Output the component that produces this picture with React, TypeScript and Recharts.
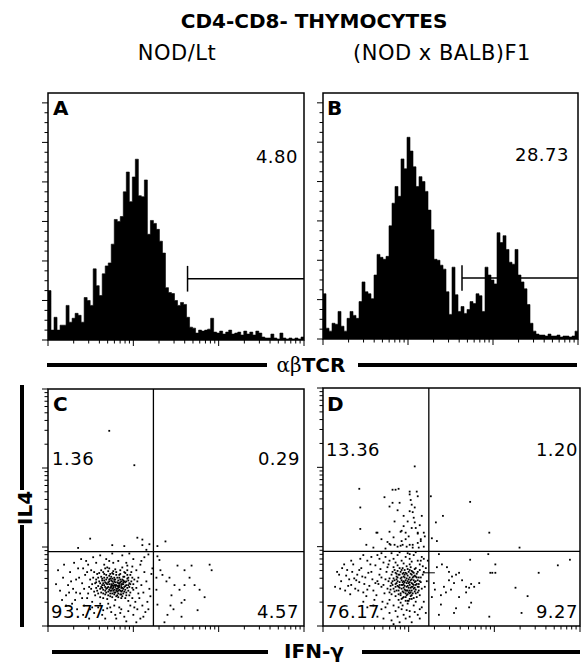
import React from "react";
import { AreaChart, Area, ScatterChart, Scatter, XAxis, YAxis, ReferenceLine, ReferenceArea } from "recharts";

// 3-decade log scale, 85 channels per decade
const CH_MAX = 255;
const DECADE = 85;
const DECADES = [0, 1, 2, 3];
const MINORS = [2, 3, 4, 5, 6, 7, 8, 9];
const COUNT_MAX = 250;
const COUNT_TICKS = [0, 10, 20, 30, 40, 50, 60, 70, 80, 90, 100, 110, 120, 130, 140, 150, 160, 170, 180, 190, 200, 210, 220, 230, 240];
const BIN = 3;

// aBTCR histograms, counts per 3-channel bin
const histNOD = [
  50, 10, 23, 10, 15, 15, 35, 18, 22, 27, 25, 18, 43, 40, 35, 72, 55, 45, 67, 75,
  78, 97, 122, 120, 125, 150, 170, 140, 165, 183, 146, 145, 162, 107, 121, 118, 112, 100, 88, 53,
  48, 47, 40, 35, 38, 36, 23, 13, 12, 7, 10, 9, 10, 11, 22, 8, 7, 9, 6, 8,
  10, 6, 7, 8, 5, 9, 6, 8, 5, 9, 7, 3, 2, 2, 6, 2, 1, 7, 2, 1,
  2, 1, 2, 1, 3,
];
const histF1 = [
  46, 11, 8, 16, 15, 28, 13, 8, 21, 28, 24, 21, 38, 58, 48, 46, 41, 65, 86, 83,
  81, 84, 115, 138, 155, 145, 183, 173, 205, 191, 175, 155, 165, 160, 150, 131, 111, 81, 80, 75,
  71, 48, 25, 73, 45, 28, 33, 26, 30, 38, 36, 46, 44, 28, 73, 65, 60, 56, 108, 98,
  105, 91, 78, 76, 91, 65, 58, 51, 35, 16, 8, 5, 4, 4, 3, 5, 3, 3, 4, 2,
  3, 3, 2, 3, 8,
];
const TCR_GATE = { x: 139, y: 62, lo: 49, hi: 75 };

// IL4 vs IFN-g dot plots, [IFN-g channel, IL4 channel]
const QUAD = { x: 105, y: 80 };
const nodLL = [
  [62,41],[57,47],[70,38],[66,52],[53,36],[75,45],[48,50],[81,33],[59,29],[68,44],
  [72,56],[55,58],[64,35],[77,39],[50,43],[83,48],[61,54],[46,37],[73,30],[58,40],
  [67,61],[79,51],[52,31],[65,46],[56,52],[71,42],[44,45],[85,39],[60,37],[76,58],
  [63,49],[54,44],[69,33],[80,44],[49,56],[74,50],[57,34],[66,39],[82,55],[51,48],
  [61,62],[78,36],[47,33],[70,49],[59,45],[84,30],[64,57],[53,53],[73,41],[67,28],
  [45,52],[79,60],[58,50],[62,32],[75,35],[52,40],[68,55],[81,42],[55,30],[71,46],
  [48,41],[65,43],[77,47],[60,59],[86,50],[54,49],[69,37],[57,42],[74,63],[63,38],
  [50,35],[80,38],[66,48],[56,56],[72,34],[83,58],[59,52],[47,46],[67,42],[76,53],
  [61,45],[53,60],[70,31],[64,51],[58,36],[78,44],[49,38],[73,48],[62,56],[85,45],
  [55,39],[68,40],[80,27],[57,62],[66,34],[52,46],[75,40],[63,43],[71,52],[46,58],
  [60,33],[79,55],[54,41],[69,47],[65,59],[82,36],[50,52],[73,37],[58,55],[67,50],
  [88,41],[43,40],[77,30],[61,48],[56,44],[72,60],[64,40],[84,52],[51,57],[70,43],
  [59,63],[76,48],[48,47],[66,36],[62,51],[80,49],[55,35],[74,45],[68,58],[53,42],
  [63,45],[65,41],[67,47],[69,43],[71,39],[73,45],[75,49],[77,43],[60,42],[58,46],
  [64,48],[66,44],[68,38],[70,46],[72,50],[74,38],[76,42],[78,48],[62,38],[61,50],
  [63,53],[65,56],[67,36],[69,52],[71,55],[73,34],[75,53],[77,57],[79,41],[81,46],
  [57,38],[59,41],[55,46],[54,51],[56,49],[60,47],[64,44],[66,50],[70,41],[72,47],
  [74,41],[76,37],[78,33],[80,52],[82,45],[84,41],[62,35],[64,31],[68,32],[70,35],
  [72,38],[74,32],[61,39],[63,42],[65,38],[67,44],[69,40],[71,44],[73,43],[75,47],
  [8,45],[12,38],[15,52],[18,33],[20,44],[22,58],[25,40],[27,28],[28,50],[30,62],
  [32,35],[34,46],[36,22],[37,55],[39,30],[40,66],[41,42],[42,18],[43,60],[44,26],
  [38,70],[33,72],[45,74],[52,76],[58,72],[64,78],[70,70],[78,68],[85,72],[92,66],
  [96,74],[100,77],[88,60],[90,52],[93,44],[95,36],[98,48],[101,40],[103,56],[91,30],
  [94,22],[97,15],[89,18],[85,12],[80,16],[76,10],[72,14],[68,8],[63,15],[59,19],
  [54,12],[50,20],[46,14],[41,8],[35,12],[29,18],[24,24],[18,22],[14,28],[10,60],
  [16,66],[26,68],[86,20],[82,22],[92,8],[99,26],[102,32],[104,62],[84,64],[61,70],
  [48,68],[74,76],[81,78],[67,12],[57,8],[88,4],[78,5],[95,10],[100,18],[73,18],
  [62,20],[55,17],[31,52],[23,48],[36,40],[39,58],[28,36],[90,35],[87,26],[66,22],
  [71,20],[60,24],[52,24],[44,20],[34,30],[21,36],[89,48],[96,58],[93,70],[56,66],
  [65,68],[79,65],[35,62],[42,50],[40,35],
];
const nodUL = [[61,210],[86,173],[42,94],[64,87],[76,86],[94,93],[94,87],[98,82],[89,95],[101,88],[30,84]];
const nodUR = [[109,86],[117,91]];
const nodLR = [
  [109,75],[111,71],[114,55],[121,52],[129,65],[136,60],[143,65],[161,66],[146,44],[131,39],
  [123,33],[136,28],[151,39],[156,31],[133,25],[149,17],[119,12],[133,10],[116,4],[126,44],
  [141,52],[108,39],[109,23],[122,22],[136,44],[163,60],[112,60],[118,48],[108,52],[125,18],
];

const f1LL = [
  [80,45],[74,52],[88,38],[85,58],[70,40],[92,48],[77,33],[95,42],[83,51],[68,55],
  [90,30],[73,46],[86,44],[79,62],[66,36],[93,56],[81,39],[75,28],[89,52],[71,60],
  [84,34],[97,47],[78,49],[87,63],[69,44],[82,57],[94,36],[76,41],[91,54],[72,32],
  [86,29],[80,53],[65,48],[96,60],[83,42],[74,65],[88,46],[79,37],[93,31],[70,51],
  [85,50],[77,58],[90,40],[67,43],[82,27],[95,52],[73,38],[87,56],[81,47],[76,62],
  [92,44],[68,34],[84,61],[89,35],[75,55],[98,40],[80,31],[71,49],[86,38],[78,44],
  [94,49],[83,64],[69,58],[91,37],[77,25],[85,41],[73,53],[88,59],[80,36],[96,33],
  [66,51],[82,49],[90,57],[74,43],[87,32],[79,56],[93,45],[71,37],[84,54],[76,47],
  [99,55],[81,60],[68,46],[89,42],[75,34],[92,62],[78,52],[85,36],[72,57],[95,38],
  [83,46],[70,63],[88,50],[80,41],[86,66],[77,35],[91,47],[74,59],[82,38],[97,52],
  [67,39],[84,48],[79,30],[90,53],[73,50],[87,41],[81,55],[76,44],[94,58],[69,48],
  [85,27],[92,35],[78,60],[83,33],[72,42],[88,55],[80,48],[95,45],[75,38],[86,52],
  [81,43],[83,38],[85,46],[87,49],[89,45],[91,41],[93,52],[79,47],[77,51],[75,42],
  [73,56],[82,35],[84,43],[86,47],[88,42],[90,49],[92,39],[80,57],[78,40],[76,55],
  [87,36],[89,58],[91,61],[83,56],[81,52],[79,44],[84,38],[86,60],[88,33],[90,44],
  [74,48],[72,45],[78,29],[82,31],[84,27],[86,35],[88,29],[92,53],[94,42],[96,48],
  [12,42],[16,55],[18,48],[22,38],[24,60],[26,50],[28,44],[30,66],[32,40],[34,55],
  [36,47],[38,62],[40,36],[42,52],[44,70],[46,43],[48,58],[50,38],[52,65],[54,48],
  [56,55],[58,42],[60,68],[62,50],[64,40],[57,61],[53,33],[49,50],[45,57],[41,45],
  [37,72],[33,49],[29,58],[25,43],[21,66],[17,40],[14,58],[27,34],[35,38],[43,32],
  [51,28],[59,26],[63,58],[61,35],[55,45],[47,66],[39,53],[31,51],[23,54],[19,62],
  [44,39],[52,46],[58,52],[64,63],[60,44],[36,60],[48,74],[28,70],[40,76],[56,72],
  [62,74],[66,70],[70,72],[74,76],[78,70],[82,74],[86,72],[90,76],[94,70],[98,74],
  [68,78],[76,79],[84,78],[92,79],[100,72],[72,68],[88,69],[96,66],[102,62],[104,70],
  [65,66],[80,67],[58,78],[54,76],[100,58],[103,48],[101,42],[99,64],[97,70],[86,77],
  [62,20],[66,14],[70,22],[74,10],[78,18],[82,8],[86,16],[90,22],[94,12],[98,20],
  [68,6],[76,4],[84,24],[88,4],[92,26],[72,16],[80,12],[86,10],[96,18],[64,24],
  [58,18],[54,10],[50,22],[60,8],[100,26],[102,14],[79,22],[83,17],[75,20],[91,15],
  [44,20],[40,26],[70,2],[96,8],[66,28],
];
const f1UL = [
  [36,147],[37,104],[53,100],[61,138],[69,132],[71,112],[74,124],[86,144],[72,146],[75,147],
  [88,130],[91,111],[94,99],[97,91],[85,96],[78,102],[80,107],[88,105],[58,93],[66,88],
  [71,87],[77,86],[83,85],[89,87],[95,84],[100,85],[78,91],[91,171],[37,127],[86,141],
  [93,144],[69,146],[94,139],[76,132],[66,128],[91,127],[86,123],[89,122],[77,101],[82,100],
  [92,105],[94,100],[100,100],[66,101],[54,100],[64,90],[67,87],[74,85],[79,87],[86,87],
  [89,84],[94,89],[97,93],[101,96],[43,87],[84,112],[80,118],[90,116],[96,108],[70,95],
  [62,83],[50,84],[82,93],[98,118],[87,135],
];
const f1UR = [[107,139],[146,133],[119,118],[112,111],[165,100],[195,84],[108,94],[113,91]];
const f1LR = [
  [115,77],[146,71],[164,77],[245,71],[233,65],[214,57],[171,66],[166,57],[168,57],[171,57],
  [191,41],[203,32],[197,14],[165,10],[147,25],[145,20],[132,19],[130,14],[115,12],[117,23],
  [120,42],[110,46],[113,63],[118,66],[123,63],[125,58],[128,53],[132,55],[135,57],[138,49],
  [142,42],[145,41],[150,42],[155,46],[125,49],[127,39],[122,36],[117,33],[135,31],[142,36],
  [111,39],[108,31],[147,45],[130,46],
];

const LOG_TICKS: number[] = [];
DECADES.forEach((d) => {
  LOG_TICKS.push(d * DECADE);
  if (d < 3) MINORS.forEach((m) => LOG_TICKS.push(d * DECADE + DECADE * Math.log10(m)));
});
const isMajor = (v: number) => Math.abs(v / DECADE - Math.round(v / DECADE)) < 0.001;

const XTick = (p: any) => (
  <line x1={p.x} x2={p.x} y1={p.y} y2={p.y + (isMajor(p.payload.value) ? 6 : 3.5)} stroke="#000" strokeWidth={1} />
);
const YLogTick = (p: any) => (
  <line x1={p.x} x2={p.x - (isMajor(p.payload.value) ? 6 : 3.5)} y1={p.y} y2={p.y} stroke="#000" strokeWidth={1} />
);
const YCountTick = (p: any) => (
  <line x1={p.x} x2={p.x - (p.payload.value % 40 === 0 ? 6 : 3.5)} y1={p.y} y2={p.y} stroke="#000" strokeWidth={1} />
);
const Dot = (p: any) => <rect x={p.cx - 0.9} y={p.cy - 0.9} width={1.8} height={1.8} fill="#000" />;

const axisCommon = { tickSize: 0, tickMargin: 0, axisLine: false, tickLine: false, interval: 0 as const, allowDataOverflow: true };

function Hist({ counts, left, top, w, h }: { counts: number[]; left: number; top: number; w: number; h: number }) {
  const rows = counts.map((n, i) => ({ ch: i * BIN, n })).concat([{ ch: CH_MAX, n: counts[counts.length - 1] }]);
  return (
    <div style={{ position: "absolute", left: left - 20, top: top - 10 }}>
      <AreaChart width={w + 30} height={h + 22} data={rows} margin={{ top: 10, right: 10, bottom: 2, left: 10 }}>
        <XAxis type="number" dataKey="ch" domain={[0, CH_MAX]} ticks={LOG_TICKS} tick={XTick} height={10} {...axisCommon} />
        <YAxis type="number" domain={[0, COUNT_MAX]} ticks={COUNT_TICKS} tick={YCountTick} width={10} {...axisCommon} />
        <Area type="stepAfter" dataKey="n" stroke="#000" strokeWidth={0.6} fill="#000" fillOpacity={1} isAnimationActive={false} />
        <ReferenceArea x1={0} x2={CH_MAX} y1={0} y2={COUNT_MAX} fill="#fff" fillOpacity={0} stroke="#000" strokeWidth={1.5} />
        <ReferenceLine segment={[{ x: TCR_GATE.x, y: TCR_GATE.lo }, { x: TCR_GATE.x, y: TCR_GATE.hi }]} stroke="#000" strokeWidth={1.5} />
        <ReferenceLine segment={[{ x: TCR_GATE.x, y: TCR_GATE.y }, { x: CH_MAX, y: TCR_GATE.y }]} stroke="#000" strokeWidth={1.5} />
      </AreaChart>
    </div>
  );
}

function Dots({ groups, left, top, w, h, cross }: { groups: number[][][]; left: number; top: number; w: number; h: number; cross?: boolean }) {
  return (
    <div style={{ position: "absolute", left: left - 20, top: top - 10 }}>
      <ScatterChart width={w + 30} height={h + 22} margin={{ top: 10, right: 10, bottom: 2, left: 10 }}>
        <XAxis type="number" dataKey="x" domain={[0, CH_MAX]} ticks={LOG_TICKS} tick={XTick} height={10} {...axisCommon} />
        <YAxis type="number" dataKey="y" domain={[0, CH_MAX]} ticks={LOG_TICKS} tick={YLogTick} width={10} {...axisCommon} />
        <ReferenceArea x1={0} x2={CH_MAX} y1={0} y2={CH_MAX} fill="#fff" fillOpacity={0} stroke="#000" strokeWidth={1.5} />
        <ReferenceLine x={QUAD.x} stroke="#000" strokeWidth={1.3} />
        <ReferenceLine y={QUAD.y} stroke="#000" strokeWidth={1.3} />
        {cross && <ReferenceLine segment={[{ x: QUAD.x - 6, y: 57 }, { x: QUAD.x + 6, y: 57 }]} stroke="#000" strokeWidth={1} />}
        {groups.map((g, i) => (
          <Scatter key={i} data={g.map(([x, y]) => ({ x, y }))} shape={Dot} isAnimationActive={false} />
        ))}
      </ScatterChart>
    </div>
  );
}

const FONT = "'DejaVu Sans', Verdana, sans-serif";

function Txt({ x, y, align = "left", size = 18, bold = false, spacing = 0, children }: any) {
  const shift = align === "center" ? "-50%" : align === "right" ? "-100%" : "0";
  return (
    <div
      style={{
        position: "absolute",
        left: x,
        top: y,
        transform: `translateX(${shift})`,
        fontFamily: FONT,
        fontSize: size,
        fontWeight: bold ? 700 : 400,
        letterSpacing: spacing,
        lineHeight: 1,
        whiteSpace: "nowrap",
        color: "#000",
      }}
    >
      {children}
    </div>
  );
}

const Bar = ({ x, y, w, h }: any) => <div style={{ position: "absolute", left: x, top: y, width: w, height: h, background: "#000" }} />;

export default function App() {
  return (
    <div style={{ position: "absolute", left: 0, top: 0, width: 583, height: 665, background: "#fff", overflow: "hidden" }}>
      <Txt x={314} y={11} align="center" size={20} bold>CD4-CD8- THYMOCYTES</Txt>
      <Txt x={177} y={43} align="center" size={21} spacing={0.5}>NOD/Lt</Txt>
      <Txt x={442} y={43} align="center" size={21} spacing={0.5}>(NOD x BALB)F1</Txt>

      <Hist counts={histNOD} left={48} top={93} w={256} h={247} />
      <Hist counts={histF1} left={323} top={93} w={255} h={246} />
      <Dots groups={[nodLL, nodUL, nodUR, nodLR]} left={48} top={389} w={256} h={237} />
      <Dots groups={[f1LL, f1UL, f1UR, f1LR]} left={323} top={388} w={257} h={238} cross />

      <Txt x={53} y={98} size={20} bold>A</Txt>
      <Txt x={327} y={98} size={20} bold>B</Txt>
      <Txt x={53} y={394} size={20} bold>C</Txt>
      <Txt x={327} y={394} size={20} bold>D</Txt>

      <Txt x={298} y={148} align="right" spacing={0.5}>4.80</Txt>
      <Txt x={569} y={146} align="right" spacing={0.5}>28.73</Txt>
      <Txt x={52} y={450} spacing={0.5}>1.36</Txt>
      <Txt x={300} y={450} align="right" spacing={0.5}>0.29</Txt>
      <Txt x={51} y={603} spacing={0.5}>93.77</Txt>
      <Txt x={299} y={603} align="right" spacing={0.5}>4.57</Txt>
      <Txt x={326} y={441} spacing={0.5}>13.36</Txt>
      <Txt x={578} y={441} align="right" spacing={0.5}>1.20</Txt>
      <Txt x={326} y={603} spacing={0.5}>76.17</Txt>
      <Txt x={578} y={603} align="right" spacing={0.5}>9.27</Txt>

      <Bar x={47} y={363} w={220} h={4} />
      <Txt x={311} y={355} align="center" size={20} bold>
        <span style={{ fontFamily: "'DejaVu Serif', serif", fontWeight: 400 }}>αβ</span>TCR
      </Txt>
      <Bar x={358} y={363} w={219} h={4} />

      <Bar x={52} y={650} w={216} h={4} />
      <Txt x={314} y={641} align="center" size={20} bold>IFN-γ</Txt>
      <Bar x={362} y={650} w={218} h={4} />

      <Bar x={20} y={385} w={4} h={105} />
      <div
        style={{
          position: "absolute",
          left: 25,
          top: 508,
          transform: "translate(-50%, -50%) rotate(-90deg)",
          fontFamily: FONT,
          fontSize: 20,
          fontWeight: 700,
          lineHeight: 1,
          whiteSpace: "nowrap",
        }}
      >
        IL4
      </div>
      <Bar x={20} y={525} w={4} h={102} />
    </div>
  );
}
